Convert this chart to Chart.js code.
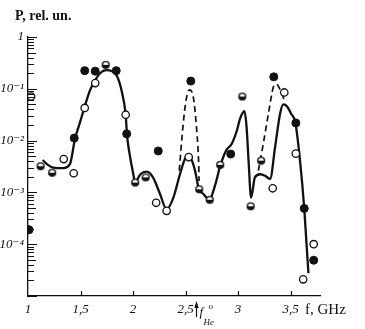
<!DOCTYPE html>
<html><head><meta charset="utf-8">
<script src="https://cdn.jsdelivr.net/npm/chart.js@4.4.1/dist/chart.umd.min.js"></script>
<style>html,body{margin:0;padding:0;background:#fff;}</style>
</head><body>
<canvas id="c" width="365" height="329"></canvas>
<script>
// ---- tick labels ----
const xTickValues = [1, 1.5, 2, 2.5, 3, 3.5];
const xTickLabels = ['1', '1,5', '2', '2,5', '3', '3,5'];
const yTickValues = [1, 1e-1, 1e-2, 1e-3, 1e-4];
const yTickLabels = ['1', '10⁻¹', '10⁻²', '10⁻³', '10⁻⁴'];
const fHe = 2.6;

// ---- measured points (f in GHz, P in rel. units) ----
const filledF = [1.01, 1.44, 1.54, 1.64, 1.84, 1.94, 2.24, 2.55, 2.93, 3.34, 3.55, 3.63, 3.72];
const filledP = [1.9e-4, 0.0112, 0.224, 0.219, 0.224, 0.0135, 0.0063, 0.141, 0.0055, 0.17, 0.0219, 4.9e-4, 4.9e-5];

const openF = [1.03, 1.34, 1.435, 1.54, 1.64, 1.93, 2.22, 2.32, 2.53, 3.33, 3.44, 3.55, 3.62, 3.72];
const openP = [0.071, 0.0044, 0.00234, 0.0427, 0.129, 0.0316, 6.3e-4, 4.4e-4, 0.0048, 0.0012, 0.085, 0.0056, 2.1e-5, 1.0e-4];

const halfF = [1.12, 1.23, 1.74, 2.02, 2.12, 2.63, 2.73, 2.83, 3.04, 3.12, 3.22];
const halfP = [0.0032, 0.0024, 0.29, 0.00155, 0.00195, 0.00115, 7.2e-4, 0.0034, 0.071, 5.4e-4, 0.0041];

// ---- solid curve ----
const solidF = [1.14, 1.19, 1.24, 1.336, 1.40, 1.448, 1.495, 1.536, 1.59, 1.64, 1.686, 1.743, 1.80, 1.848, 1.895, 1.93, 1.943, 1.97, 2.0, 2.02, 2.07, 2.13, 2.19, 2.257, 2.32, 2.384, 2.448, 2.495, 2.527, 2.562, 2.59, 2.626, 2.67, 2.727, 2.78, 2.83, 2.886, 2.94, 2.988, 3.02, 3.06, 3.08, 3.10, 3.124, 3.16, 3.21, 3.257, 3.305, 3.352, 3.40, 3.43, 3.467, 3.505, 3.546, 3.59, 3.63, 3.65, 3.67];
const solidP = [0.00422, 0.00339, 0.00302, 0.00295, 0.00355, 0.011, 0.0224, 0.0427, 0.0933, 0.148, 0.2, 0.229, 0.219, 0.174, 0.0851, 0.0316, 0.0126, 0.00513, 0.0024, 0.00158, 0.00224, 0.00251, 0.00195, 0.000933, 0.000468, 0.000794, 0.00229, 0.00447, 0.00513, 0.00407, 0.00263, 0.0012, 0.000933, 0.000724, 0.00135, 0.00324, 0.00646, 0.0087, 0.0155, 0.0269, 0.0372, 0.0195, 0.00407, 0.000794, 0.00195, 0.00224, 0.00209, 0.00182, 0.00741, 0.0331, 0.0501, 0.0457, 0.0331, 0.0219, 0.00407, 0.00049, 0.000115, 0.0000275];

// ---- dashed curves ----
const dash1F = [2.44, 2.476, 2.505, 2.536, 2.571, 2.59, 2.61, 2.624, 2.629];
const dash1P = [0.00263, 0.0195, 0.0603, 0.0955, 0.0741, 0.038, 0.0126, 0.00407, 0.00166];
const dash2F = [3.193, 3.24, 3.289, 3.336, 3.362, 3.384, 3.416, 3.448];
const dash2P = [0.00263, 0.0087, 0.0331, 0.108, 0.122, 0.112, 0.0813, 0.055];

const pts = (fs, ps) => fs.map((f, i) => ({x: f, y: ps[i]}));

// half-filled marker
const half = document.createElement('canvas');
half.width = 10; half.height = 10;
(function(){
  const g = half.getContext('2d');
  g.fillStyle = '#111';
  g.beginPath(); g.arc(5, 5, 4.1, 0, Math.PI * 2); g.fill();
  g.fillStyle = '#fff';
  g.beginPath(); g.arc(5, 5, 2.7, Math.PI, 0); g.closePath(); g.fill();
})();

const SERIF = '"Liberation Serif", "DejaVu Serif", serif';

const decor = {
  id: 'decor',
  afterDraw(chart) {
    const ctx = chart.ctx, xs = chart.scales.x, ys = chart.scales.y;
    const a = chart.chartArea;
    ctx.save();
    ctx.strokeStyle = '#111';
    ctx.lineWidth = 1.2;
    // x ticks pointing inward
    xTickValues.forEach(v => {
      if (v === 1) return;
      const px = Math.round(xs.getPixelForValue(v)) + 0.5;
      ctx.beginPath(); ctx.moveTo(px, a.bottom); ctx.lineTo(px, a.bottom - 5); ctx.stroke();
    });
    // y ticks (major + minor) pointing inward
    ctx.lineWidth = 1;
    for (let e = -5; e <= 0; e++) {
      for (let k = 1; k <= 9; k++) {
        const v = k * Math.pow(10, e);
        if (v > 1.0001) break;
        const py = Math.round(ys.getPixelForValue(v)) + 0.5;
        const len = (k === 1) ? 9 : (k === 5 ? 8 : 6);
        ctx.beginPath(); ctx.moveTo(a.left, py); ctx.lineTo(a.left + len, py); ctx.stroke();
      }
    }
    // titles
    ctx.fillStyle = '#111';
    ctx.textBaseline = 'alphabetic';
    ctx.textAlign = 'left';
    ctx.font = 'bold 14px ' + SERIF;
    ctx.fillText('P, rel. un.', 15, 20);
    ctx.font = '15px ' + SERIF;
    ctx.fillText('f, GHz', 305, 314);
    // f_He arrow
    const ax = Math.round(xs.getPixelForValue(fHe)) + 0.5;
    ctx.lineWidth = 1.2;
    ctx.beginPath(); ctx.moveTo(ax, 317); ctx.lineTo(ax, 304); ctx.stroke();
    ctx.beginPath(); ctx.moveTo(ax, 301); ctx.lineTo(ax - 2.2, 308); ctx.lineTo(ax + 2.2, 308); ctx.closePath(); ctx.fill();
    ctx.font = 'italic 13px ' + SERIF;
    ctx.fillText('f', ax + 3, 316);
    ctx.font = 'italic 9px ' + SERIF;
    ctx.fillText('He', ax + 7, 325);
    ctx.fillText('o', ax + 12, 309);
    ctx.restore();
  }
};

new Chart(document.getElementById('c'), {
  type: 'scatter',
  data: {
    datasets: [
      { data: pts(filledF, filledP), pointStyle: 'circle', pointRadius: 4, pointBackgroundColor: '#111', pointBorderColor: '#111', pointBorderWidth: 1, order: 0 },
      { data: pts(openF, openP), pointStyle: 'circle', pointRadius: 3.7, pointBackgroundColor: '#fff', pointBorderColor: '#111', pointBorderWidth: 1.3, order: 0 },
      { data: pts(halfF, halfP), pointStyle: half, order: 0 },
      { data: pts(solidF, solidP), showLine: true, pointRadius: 0, borderColor: '#111', borderWidth: 2.3, cubicInterpolationMode: 'monotone', order: 2 },
      { data: pts(dash1F, dash1P), showLine: true, pointRadius: 0, borderColor: '#111', borderWidth: 1.7, borderDash: [6, 4], cubicInterpolationMode: 'monotone', order: 2 },
      { data: pts(dash2F, dash2P), showLine: true, pointRadius: 0, borderColor: '#111', borderWidth: 1.7, borderDash: [6, 4], cubicInterpolationMode: 'monotone', order: 2 }
    ]
  },
  options: {
    responsive: false,
    animation: false,
    devicePixelRatio: 1,
    layout: { padding: { top: 37, right: 45, left: 0, bottom: 0 } },
    plugins: { legend: { display: false }, tooltip: { enabled: false } },
    scales: {
      x: {
        type: 'linear', min: 1, max: 3.78,
        grid: { display: false, drawTicks: false },
        border: { display: true, color: '#111', width: 1.3 },
        afterBuildTicks: s => { s.ticks = xTickValues.map(v => ({ value: v })); },
        afterFit: s => { s.height = 33; },
        ticks: {
          padding: 6, color: '#111', maxRotation: 0, autoSkip: false,
          font: { family: SERIF, size: 13, style: 'italic' },
          callback: (v) => { const i = xTickValues.indexOf(v); return i >= 0 ? xTickLabels[i] : ''; }
        }
      },
      y: {
        type: 'logarithmic', min: 1e-5, max: 1,
        grid: { display: false, drawTicks: false },
        border: { display: true, color: '#111', width: 1.3 },
        afterBuildTicks: s => { s.ticks = yTickValues.map(v => ({ value: v })); },
        afterFit: s => { s.width = 28; },
        ticks: {
          padding: 4, color: '#111', autoSkip: false,
          font: { family: SERIF, size: 13, style: 'italic' },
          callback: (v) => { const i = yTickValues.findIndex(t => Math.abs(t - v) / t < 1e-6); return i >= 0 ? yTickLabels[i] : ''; }
        }
      }
    }
  },
  plugins: [decor]
});
</script>
</body></html>
